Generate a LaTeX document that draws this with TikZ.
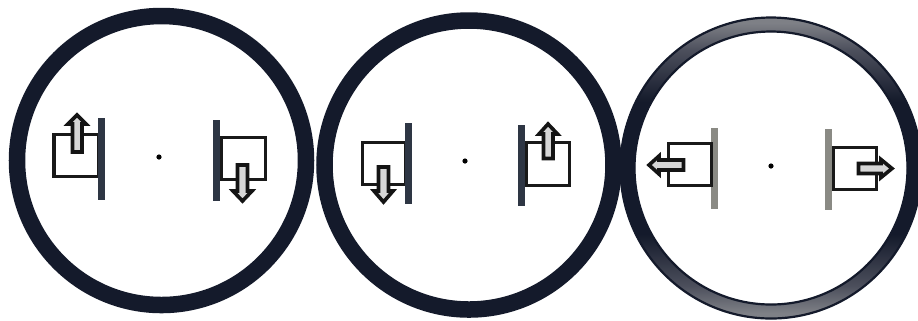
\documentclass[tikz,border=0pt]{standalone}
\definecolor{ringdark}{HTML}{141A2B}
\definecolor{ringmid}{HTML}{4C4F5C}
\definecolor{ringgrey}{HTML}{7E8086}
\definecolor{bardark}{HTML}{2E3644}
\definecolor{barlight}{HTML}{8A8A84}
\definecolor{shaft}{HTML}{D6D6D6}
\pgfdeclareverticalshading{fadedring}{100bp}{
  color(0bp)=(ringgrey); color(26bp)=(ringgrey); color(30.5bp)=(ringmid); color(39bp)=(ringdark);
  color(61bp)=(ringdark); color(69.5bp)=(ringmid); color(74bp)=(ringgrey); color(100bp)=(ringgrey)}
\tikzset{
  ring/.style={draw=ringdark,line width=0.165cm},
  ringedge/.style={draw=ringdark,line width=0.022cm},
  wall/.style={fill=bardark,draw=none},
  walllight/.style={fill=barlight,draw=none},
  block/.style={draw=black!90,line width=0.03cm,fill=white,line join=miter},
  flow/.style={draw=black!92,line width=0.036cm,fill=shaft,line join=miter},
  centre/.style={fill=black,draw=none}
}
\begin{document}
\begin{tikzpicture}[x=0.01cm,y=-0.01cm]
\useasboundingbox (0,0) rectangle (918,320);
\fill[white] (0,0) rectangle (918,320);
\begin{scope}
\clip (0,0) rectangle (918,320);
% rings
\draw[ring] (161.5,160.5) circle [radius=144.5];
\draw[ring] (469,165) circle [radius=144.5];
\shade[shading=fadedring,even odd rule] (771,168) circle [radius=151] (771,168) circle [radius=136];
\draw[ringedge] (771,168) circle [radius=150.5];
\draw[ringedge] (771,168) circle [radius=136.5];
\end{scope}
% circle 1
\draw[block] (54,134) rectangle (98,176);
\fill[wall] (98,118) rectangle (105,200);
\draw[flow] (72.5,152) -- (72.5,124) -- (68,124) -- (77,115) -- (86,124) -- (82,124) -- (82,152) -- cycle;
\fill[wall] (213,120) rectangle (220,201);
\draw[block] (221,137.5) rectangle (265,179);
\draw[flow] (237.5,165) -- (237.5,191) -- (233,191) -- (242.5,201) -- (252,191) -- (247.5,191) -- (247.5,165) -- cycle;
\fill[centre] (159,157) circle [radius=2.6];
% circle 2
\draw[block] (362,142) rectangle (405,184);
\fill[wall] (405,123) rectangle (412,204);
\draw[flow] (378.5,167) -- (378.5,191) -- (374,191) -- (383.5,202) -- (393,191) -- (388.5,191) -- (388.5,167) -- cycle;
\fill[wall] (518,125) rectangle (525,206);
\draw[block] (526,142.5) rectangle (569,185);
\draw[flow] (543.5,158.5) -- (543.5,134) -- (539,134) -- (548,124) -- (557.5,134) -- (553,134) -- (553,158.5) -- cycle;
\fill[centre] (465,161) circle [radius=2.6];
% circle 3
\fill[walllight] (711,128) rectangle (718,209);
\draw[block] (668,143.5) rectangle (711,185.5);
\draw[flow] (683.5,160) -- (659,160) -- (659,156) -- (649,165) -- (659,174) -- (659,170) -- (683.5,170) -- cycle;
\fill[walllight] (825,129) rectangle (832,210);
\draw[block] (833,147) rectangle (876.5,189);
\draw[flow] (858.5,163.5) -- (881,163.5) -- (881,159.5) -- (892,168.5) -- (881,177.5) -- (881,173.5) -- (858.5,173.5) -- cycle;
\fill[centre] (771,166) circle [radius=2.6];
\end{tikzpicture}
\end{document}
